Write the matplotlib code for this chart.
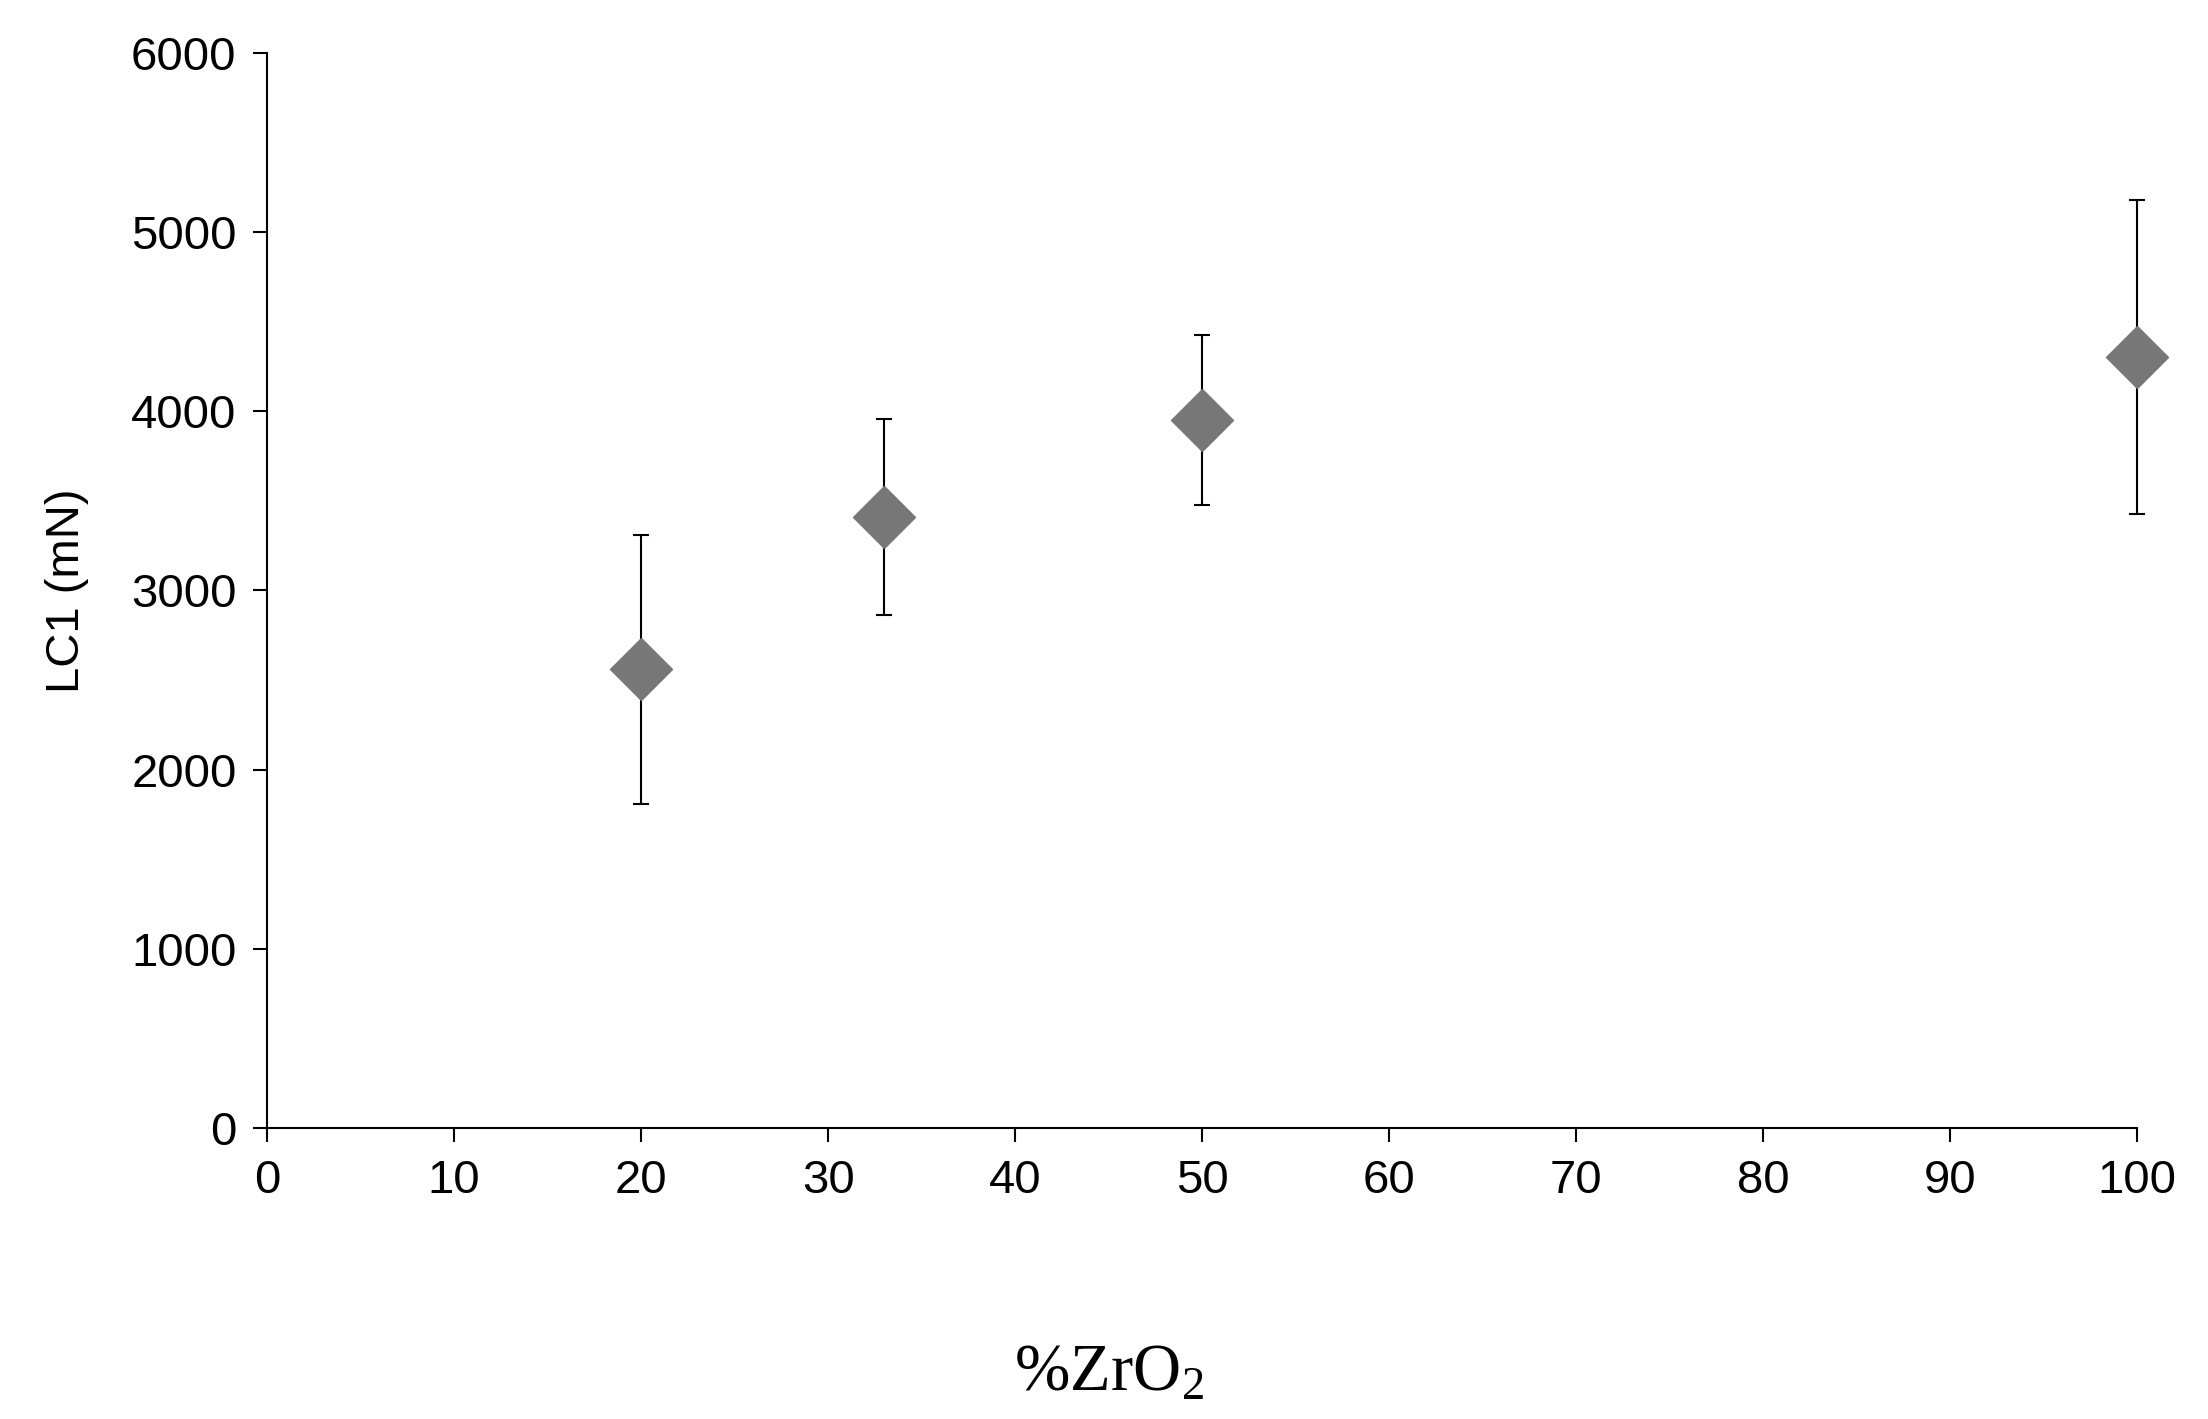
import matplotlib
matplotlib.use("Agg")
import matplotlib as mpl
import matplotlib.pyplot as plt
mpl.rcParams['mathtext.fontset'] = 'custom'
mpl.rcParams['mathtext.rm'] = 'Liberation Serif'
mpl.rcParams['mathtext.it'] = 'Liberation Serif'

x = [20, 33, 50, 100]
y = [2560, 3410, 3950, 4300]
err = [750, 545, 475, 875]
xticks = list(range(0, 101, 10))
yticks = list(range(0, 6001, 1000))

fig = plt.figure(figsize=(22.08, 14.19), dpi=100)
ax = fig.add_axes([0.121, 0.205, 0.847, 0.758])
_, caps, bars = ax.errorbar(x, y, yerr=err, fmt='D', color='#777777', ms=32, ecolor='black',
            elinewidth=1.5, capsize=6, capthick=1.5, zorder=3)
for a in ax.lines + ax.collections:
    a.set_clip_on(False)
ax.set_xlim(0, 100)
ax.set_ylim(0, 6000)
ax.set_xticks(xticks)
ax.set_yticks(yticks)
for s in ['top', 'right']:
    ax.spines[s].set_visible(False)
for s in ['left', 'bottom']:
    ax.spines[s].set_linewidth(1.5)
ax.tick_params(direction='out', length=10, width=1.5, labelsize=34, pad=12)
for lab in ax.get_xticklabels() + ax.get_yticklabels():
    lab.set_family('Liberation Sans')
ax.set_ylabel('LC1 (mN)', fontsize=34, family='Liberation Sans', labelpad=30)
ax.set_xlabel(r'%ZrO$_\mathrm{2}$', fontsize=48, family='Liberation Serif', labelpad=100)
ax.xaxis.set_label_coords(0.45, -0.2)
fig.savefig('out.png', dpi=100, facecolor='white')
